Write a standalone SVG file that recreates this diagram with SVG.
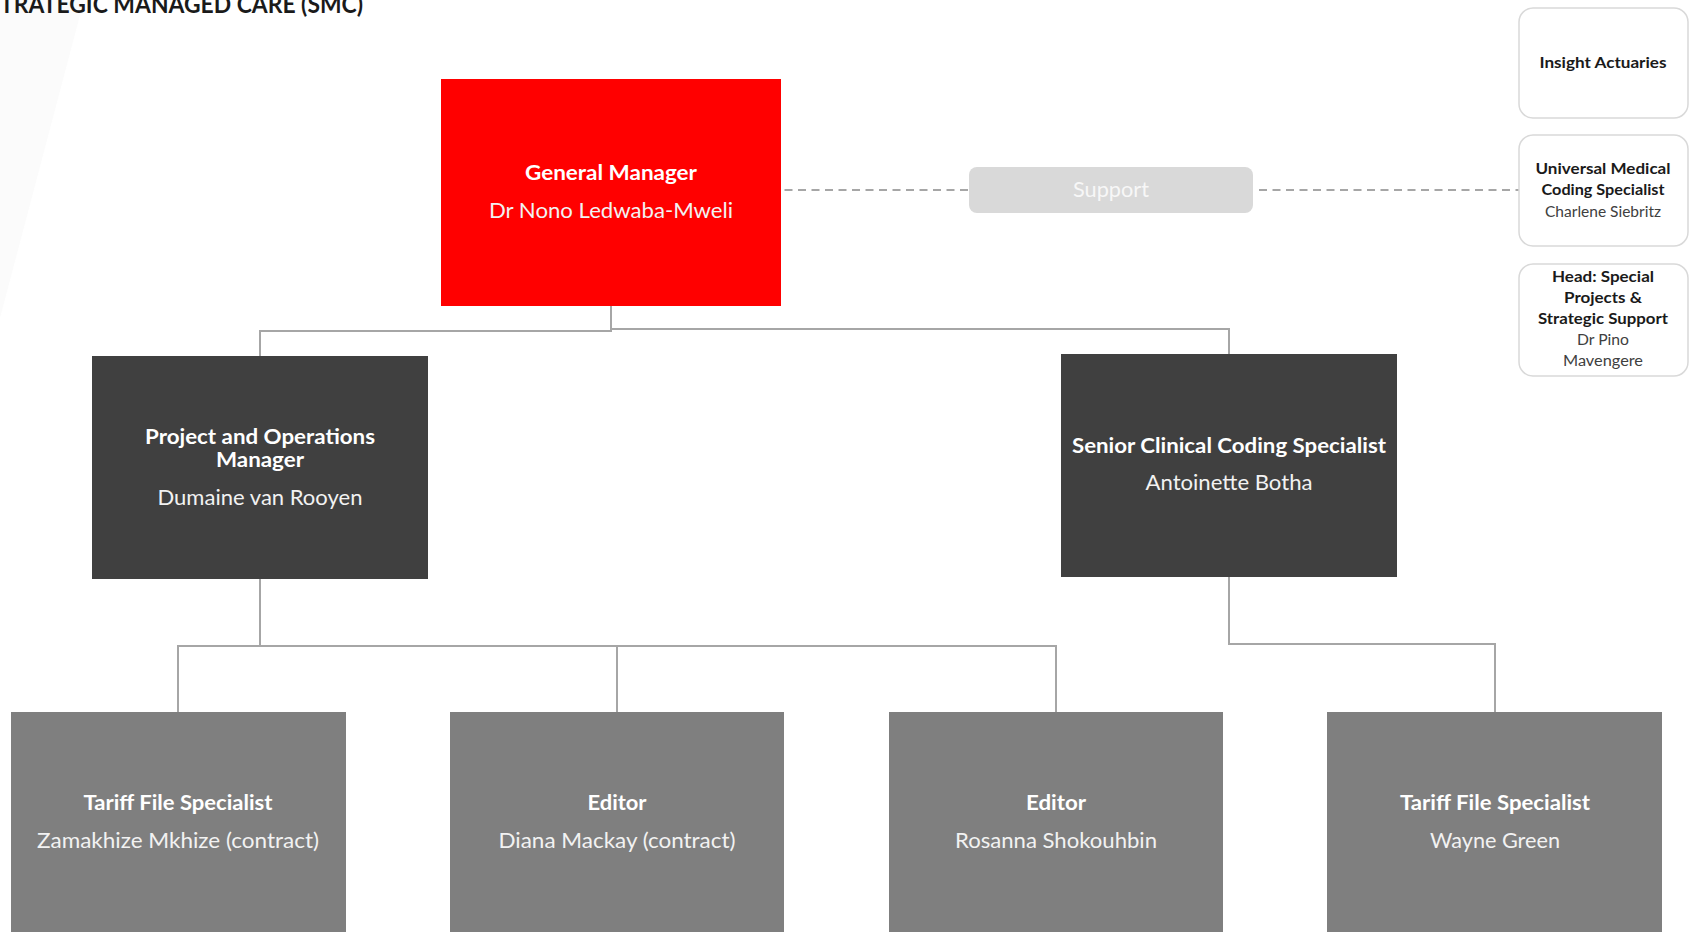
<svg xmlns="http://www.w3.org/2000/svg" width="1694" height="932" viewBox="0 0 1694 932">
  <style>
    text { font-family: Lato, "Open Sans", "Liberation Sans", sans-serif; text-anchor: middle; }
    .role { font-weight: 700; font-size: 21px; fill: #ffffff; }
    .name { font-weight: 400; font-size: 21px; fill: #f2f2f2; }
    .srole { font-weight: 700; font-size: 15.5px; fill: #1a1a1a; }
    .sname { font-weight: 400; font-size: 15.5px; fill: #404040; }
    .red { fill: #ff0000; }
    .dark { fill: #404040; }
    .mid { fill: #7f7f7f; }
    .side { fill: #ffffff; stroke: #d9d9d9; stroke-width: 1.5; }
    .link { fill: none; stroke: #a6a6a6; stroke-width: 2; }
    .dash { fill: none; stroke: #a6a6a6; stroke-width: 2; stroke-dasharray: 8 5.5; }
  </style>

  <!-- faint backdrop wedge, top left -->
  <polygon points="0,0 84,0 0,318" fill="#fbfbfb"/>

  <!-- page heading -->
  <text x="0" y="13" style="text-anchor:start; font-weight:700; font-size:24px; fill:#1a1a1a" textLength="363" lengthAdjust="spacingAndGlyphs">TRATEGIC MANAGED CARE (SMC)</text>

  <!-- reporting lines -->
  <g id="connectors">
    <path class="link" d="M260,356 V331 H611 V306"/>
    <path class="link" d="M611,329 H1229 V354"/>
    <path class="link" d="M260,579 V646"/>
    <path class="link" d="M178,712 V646 H1056 V712"/>
    <path class="link" d="M617,646 V712"/>
    <path class="link" d="M1229,577 V644 H1495 V712"/>
    <path class="dash" d="M771,190 H969"/>
    <path class="dash" d="M1259,190 H1519"/>
  </g>

  <g id="general-manager">
    <rect class="red" x="441" y="79" width="340" height="227"/>
    <text class="role" x="611" y="180" textLength="172" lengthAdjust="spacingAndGlyphs">General Manager</text>
    <text class="name" x="611" y="218" textLength="244" lengthAdjust="spacingAndGlyphs">Dr Nono Ledwaba-Mweli</text>
  </g>

  <g id="support">
    <rect x="969" y="167" width="284" height="46" rx="8" fill="#d9d9d9"/>
    <text x="1111" y="197" style="font-size:21px; fill:#f7f7f7" textLength="76" lengthAdjust="spacingAndGlyphs">Support</text>
  </g>

  <g id="insight-actuaries">
    <rect class="side" x="1519" y="8" width="169" height="110" rx="14"/>
    <text class="srole" x="1603" y="68" textLength="127" lengthAdjust="spacingAndGlyphs">Insight Actuaries</text>
  </g>

  <g id="coding-specialist">
    <rect class="side" x="1519" y="135" width="169" height="111" rx="14"/>
    <text class="srole" x="1603" y="174" textLength="135" lengthAdjust="spacingAndGlyphs">Universal Medical</text>
    <text class="srole" x="1603" y="195" textLength="123" lengthAdjust="spacingAndGlyphs">Coding Specialist</text>
    <text class="sname" x="1603" y="217" textLength="116" lengthAdjust="spacingAndGlyphs">Charlene Siebritz</text>
  </g>

  <g id="special-projects">
    <rect class="side" x="1519" y="264" width="169" height="112" rx="14"/>
    <text class="srole" x="1603" y="282" textLength="102" lengthAdjust="spacingAndGlyphs">Head: Special</text>
    <text class="srole" x="1603" y="303" textLength="78" lengthAdjust="spacingAndGlyphs">Projects &amp;</text>
    <text class="srole" x="1603" y="324" textLength="130" lengthAdjust="spacingAndGlyphs">Strategic Support</text>
    <text class="sname" x="1603" y="345" textLength="52" lengthAdjust="spacingAndGlyphs">Dr Pino</text>
    <text class="sname" x="1603" y="366" textLength="80" lengthAdjust="spacingAndGlyphs">Mavengere</text>
  </g>

  <g id="operations-manager">
    <rect class="dark" x="92" y="356" width="336" height="223"/>
    <text class="role" x="260" y="444" textLength="230" lengthAdjust="spacingAndGlyphs">Project and Operations</text>
    <text class="role" x="260" y="467" textLength="88" lengthAdjust="spacingAndGlyphs">Manager</text>
    <text class="name" x="260" y="505" textLength="205" lengthAdjust="spacingAndGlyphs">Dumaine van Rooyen</text>
  </g>

  <g id="clinical-coding">
    <rect class="dark" x="1061" y="354" width="336" height="223"/>
    <text class="role" x="1229" y="453" textLength="314" lengthAdjust="spacingAndGlyphs">Senior Clinical Coding Specialist</text>
    <text class="name" x="1229" y="490" textLength="167" lengthAdjust="spacingAndGlyphs">Antoinette Botha</text>
  </g>

  <g id="tariff-zamakhize">
    <rect class="mid" x="11" y="712" width="335" height="230"/>
    <text class="role" x="178" y="810" textLength="189" lengthAdjust="spacingAndGlyphs">Tariff File Specialist</text>
    <text class="name" x="178" y="848" textLength="282" lengthAdjust="spacingAndGlyphs">Zamakhize Mkhize (contract)</text>
  </g>

  <g id="editor-diana">
    <rect class="mid" x="450" y="712" width="334" height="230"/>
    <text class="role" x="617" y="810" textLength="59" lengthAdjust="spacingAndGlyphs">Editor</text>
    <text class="name" x="617" y="848" textLength="237" lengthAdjust="spacingAndGlyphs">Diana Mackay (contract)</text>
  </g>

  <g id="editor-rosanna">
    <rect class="mid" x="889" y="712" width="334" height="230"/>
    <text class="role" x="1056" y="810" textLength="60" lengthAdjust="spacingAndGlyphs">Editor</text>
    <text class="name" x="1056" y="848" textLength="202" lengthAdjust="spacingAndGlyphs">Rosanna Shokouhbin</text>
  </g>

  <g id="tariff-wayne">
    <rect class="mid" x="1327" y="712" width="335" height="230"/>
    <text class="role" x="1495" y="810" textLength="190" lengthAdjust="spacingAndGlyphs">Tariff File Specialist</text>
    <text class="name" x="1495" y="848" textLength="130" lengthAdjust="spacingAndGlyphs">Wayne Green</text>
  </g>
</svg>
